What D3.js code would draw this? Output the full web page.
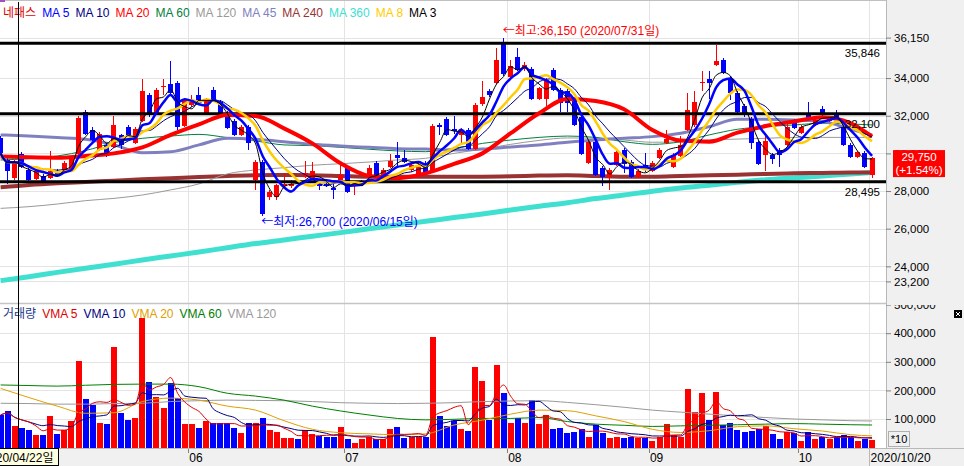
<!DOCTYPE html>
<html><head><meta charset="utf-8">
<script src="https://cdn.jsdelivr.net/npm/d3@7/dist/d3.min.js"></script>
<style>
body{margin:0;background:#fff;}
svg{display:block;font-family:"Liberation Sans","Noto Sans CJK KR",sans-serif;}
</style></head><body>
<svg id="c" width="964" height="466"></svg>
<script>
// ---------- DATA ----------
const tradingDays = {
  "2020/04":[20,21,22,23,24,27,28,29],
  "2020/05":[4,6,7,8,11,12,13,14,15,18,19,20,21,22,25,26,27,28,29],
  "2020/06":[1,2,3,4,5,8,9,10,11,12,15,16,17,18,19,22,23,24,25,26,29,30],
  "2020/07":[1,2,3,6,7,8,9,10,13,14,15,16,17,20,21,22,23,24,27,28,29,30,31],
  "2020/08":[3,4,5,6,7,10,11,12,13,14,18,19,20,21,24,25,26,27,28,31],
  "2020/09":[1,2,3,4,7,8,9,10,11,14,15,16,17,18,21,22,23,24,25,28,29],
  "2020/10":[5,6,7,8,12,13,14,15,16,19,20]
};
const dates = Object.entries(tradingDays).flatMap(([m, ds]) => ds.map(d => m + "/" + String(d).padStart(2, "0")));
const monthLabels = ["06","07","08","09","10"];

const opens = [30800,29650,28700,29950,29100,28650,28800,28700,29050,29050,29150,29950,32200,31250,30200,30450,30350,30950,31400,30550,
31700,33100,32150,33500,33700,33750,31450,32550,33100,32150,33350,32750,32150,31700,30950,31400,28600,29550,27700,27700,
28250,28250,28500,28750,28700,28350,28350,28150,28600,29200,28250,28300,28750,29500,28750,29300,29900,29750,29100,28850,
29500,29100,31500,31800,31300,30950,31250,30250,32600,33300,33750,35850,34050,35100,34500,34500,32900,32900,34450,33350,
33300,32800,31950,29500,30600,29250,28750,29400,30200,29550,28750,29400,29050,29750,30550,29300,29850,31250,31500,33750,
33950,34700,34950,34000,33200,32500,31850,30600,29900,29900,30200,30450,31750,31100,32050,31500,32350,31700,32100,31400,
30450,29800,30000,28850];
const highs = [30900,29750,29650,30050,29200,29150,28900,30100,29150,29600,29800,32000,32300,31400,31150,30550,32000,31050,31500,31400,
33950,33200,33450,33950,34900,33850,32950,33100,33550,32950,33550,32850,32250,31800,31500,31500,29650,29650,28050,28400,
28950,28600,28600,29600,29550,28450,28450,28350,29450,29300,28500,28600,29400,29600,29200,29950,30600,30200,29500,29500,
29600,31550,31600,31950,32000,31350,31350,32650,33850,33400,35600,36150,34950,35600,34850,34600,33550,34000,34550,33450,
33400,32900,32050,30700,30700,29350,29200,30150,30300,29650,29150,30000,29600,30300,31250,30000,30900,33200,33300,34400,
34350,35750,35050,34100,33300,32600,31950,30700,30900,30000,30300,31600,31850,31500,32750,31850,32500,32000,32300,31500,
30550,30150,30100,29800];
const lows = [29900,28400,28600,29200,28550,28600,28500,28650,28750,29000,29100,29850,31000,30650,30100,29800,30300,30250,30850,30500,
31650,31950,32100,33100,33100,31250,31400,32450,32650,32100,32800,32100,31300,30900,30900,30200,28050,26700,27500,27500,
28150,28150,28300,28700,28650,28050,28200,27600,28550,27900,27800,28250,28700,28700,28700,29250,29300,29500,29000,28800,
28900,29050,30950,30900,31050,30550,30200,30200,32500,33000,33700,34100,34000,34400,34400,32850,32850,32500,33300,32200,
32200,31450,29900,29450,28800,28250,28050,29350,28950,28700,28700,29000,29000,29700,30500,29250,29800,31200,31400,33300,
32900,34650,34200,32850,32150,31950,30250,29400,29050,29450,29300,30350,31300,31050,31750,31450,32000,31650,31850,30400,
29750,29750,29250,28700];
const closes = [30000,29050,29550,29300,28600,29050,28550,29050,28800,29500,29700,31900,31050,30700,31050,29850,31500,30450,30900,31300,
33300,32050,33350,33600,33200,31400,32850,32850,32750,32850,32850,32150,31350,30950,31400,30550,29550,26800,27950,28300,
28400,28400,28400,28950,29050,28250,28250,28050,28850,27950,28400,28500,29200,28750,29100,29600,29750,29550,29400,29400,
28950,31450,31400,30950,31200,31250,30250,32550,33000,33100,34950,34200,34650,34450,34700,32900,33450,33900,33350,32650,
32700,31500,29950,30600,28850,28750,29100,30050,29450,28750,29050,29100,29500,30200,30750,29900,30450,32300,32750,33800,
33750,34900,34250,33200,32200,32050,30550,29450,30650,29700,29900,31400,31350,31400,31800,31750,32050,31900,31900,30450,
29800,30050,29300,29750];
const volumes = [114000,128000,75000,70000,61000,44000,44000,110000,47000,61000,93000,303000,170000,149000,86000,82000,353000,122000,96000,105000,
452000,230000,177000,139000,227000,172000,82000,82000,70000,94000,85000,85000,85000,70000,52000,87000,87000,104000,61000,55000,
32000,32000,29000,61000,47000,40000,38000,36000,73000,29000,17000,29000,36000,31000,29000,65000,73000,33000,36000,38000,
36000,388000,110000,75000,94000,65000,58000,283000,234000,96000,289000,192000,87000,102000,87000,166000,82000,114000,65000,70000,
52000,56000,65000,38000,79000,50000,35000,38000,35000,38000,35000,35000,24000,36000,82000,43000,38000,204000,125000,190000,
96000,193000,78000,85000,61000,56000,58000,65000,77000,47000,29000,53000,50000,23000,53000,29000,36000,29000,36000,44000,
38000,24000,29000,27000];

// long moving averages, one value every 4th session (last = final session)
const maSampleIdx = [0,4,8,12,16,20,24,28,32,36,40,44,48,52,56,60,64,68,72,76,80,84,88,92,96,100,104,108,112,116,120,123];
const ma20  = [29830,29790,29770,29860,30000,30320,30980,31540,32040,31990,31330,30530,29470,28800,28680,28940,29440,30000,31070,32130,32890,32780,32340,31240,30680,30620,31100,31450,31690,31920,31600,30890];
const ma45  = [30980,30920,30840,30750,30450,30040,30090,30450,30800,30750,30620,30480,30390,30320,30250,30230,30180,30230,30340,30450,30590,30710,30800,30890,31070,31420,31810,31810,31770,31690,31280,30980];
const ma60  = [29650,29720,29860,30150,30570,30800,30920,31010,30840,30660,30450,30410,30320,30220,30130,30090,30270,30530,30710,30850,30920,30850,30620,30480,30620,30980,31280,31420,31510,31600,31560,31510];
const ma120 = [27080,27170,27310,27490,27610,27790,28060,28380,28910,29120,29240,29370,29450,29540,29650,29740,30000,30230,30480,30690,30820,30800,30710,30590,30620,30710,30760,30800,30850,30850,30850,30850];
const ma240 = [28200,28320,28410,28480,28550,28620,28680,28750,28800,28840,28850,28840,28800,28760,28760,28760,28760,28760,28780,28820,28840,28800,28760,28760,28800,28840,28870,28910,28940,28960,28980,28980];
const ma360 = [23240,23450,23680,23900,24110,24340,24550,24760,24990,25210,25400,25600,25790,26000,26200,26390,26590,26780,26990,27190,27380,27600,27790,27990,28160,28300,28460,28600,28700,28800,28900,28990];
const vma20  = [207000,175000,145000,120000,122000,161000,173000,166000,145000,131000,94000,64000,52000,48000,45000,48000,79000,96000,117000,131000,129000,111000,91000,64000,53000,59000,73000,76000,66000,58000,45000,41000];
const vma60  = [219000,217000,215000,218000,221000,222000,222000,213000,190000,180000,166000,145000,128000,114000,102000,97000,99000,102000,102000,105000,91000,82000,78000,74000,76000,78000,80000,82000,84000,82000,80000,79000];
const vma120 = [155000,154000,152000,152000,154000,155000,161000,164000,166000,165000,164000,161000,157000,155000,154000,155000,157000,161000,163000,164000,158000,150000,141000,131000,124000,117000,111000,105000,100000,97000,94000,93000];

const priceTicks = [36150,34000,32000,30000,28000,26000,24000,23200];
const volumeTicks = [500000,400000,300000,200000,100000];
const levelLines = [35846,32100,28495];
const stockName = "네패스";
const changePct = "+1.54%";
const cursorDate = "2020/04/22";

// ---------- LAYOUT ----------
const svg = d3.select("#c");
const plotR = 886;
const bw = 7.085;
const x = d3.scaleBand().domain(dates).range([0.6 - bw/2, 0.6 - bw/2 + bw*dates.length]).padding(0);
const cx = d => x(d) + x.bandwidth()/2;
const y = d3.scaleLinear().domain([23200,36150]).range([281.4,37.6]);
const yv = d3.scaleLinear().domain([0,500000]).range([447.6,304.6]);
const crisp = v => Math.round(v) + 0.5;

const C = {red:"#ff0000", blue:"#0000ff", ma5:"#0000ff", ma10:"#000080", ma20:"#ff0000", ma60:"#008040",
  ma120:"#999999", ma45:"#8080c0", ma240:"#993333", ma360:"#40e0d0", ma8:"#ffcc00", ma3:"#000000",
  v5:"#e00000", v10:"#000080", v20:"#e0a000", v60:"#008000", v120:"#999999", grid:"#e4e4e4"};

svg.append("rect").attr("width",964).attr("height",466).attr("fill","#fff");
svg.append("rect").attr("x",plotR).attr("y",0).attr("width",964-plotR).attr("height",448).attr("fill","#f0f0f0");
svg.append("rect").attr("x",0).attr("y",448).attr("width",964).attr("height",18).attr("fill","#f0f0f0");

const defs = svg.append("defs");
defs.append("clipPath").attr("id","cm").append("rect").attr("x",0).attr("y",0).attr("width",plotR).attr("height",303);
defs.append("clipPath").attr("id","cv").append("rect").attr("x",0).attr("y",305).attr("width",plotR).attr("height",143);
defs.append("clipPath").attr("id","cva").append("rect").attr("x",plotR).attr("y",305).attr("width",80).attr("height",143);

// grid
const grid = svg.append("g").attr("shape-rendering","crispEdges");
grid.selectAll(".hp").data(priceTicks).join("line")
  .attr("x1",0).attr("x2",plotR).attr("y1",d=>crisp(y(d))).attr("y2",d=>crisp(y(d))).attr("stroke",C.grid);
grid.selectAll(".hv").data(volumeTicks.slice(1)).join("line").attr("class","hv")
  .attr("x1",0).attr("x2",plotR).attr("y1",d=>crisp(yv(d))).attr("y2",d=>crisp(yv(d))).attr("stroke",C.grid);
const monthStarts = monthLabels.map(m => dates.find(d => d.slice(5,7) === m));
const lastDate = dates[dates.length-1];
grid.selectAll(".vm").data(monthStarts.concat([lastDate])).join("line").attr("class","vm")
  .attr("x1",d=>crisp(x(d))).attr("x2",d=>crisp(x(d))).attr("y1",0).attr("y2",448).attr("stroke",C.grid);

// panel borders
svg.append("line").attr("x1",0).attr("x2",plotR).attr("y1",0.5).attr("y2",0.5).attr("stroke","#c0c0c0");
svg.append("rect").attr("x",0).attr("y",0).attr("width",5).attr("height",2).attr("fill","#a050c0");
svg.append("line").attr("x1",0).attr("x2",plotR).attr("y1",303.5).attr("y2",303.5).attr("stroke","#c4c4c4").attr("stroke-width",1.5);
svg.append("line").attr("x1",0).attr("x2",964).attr("y1",448.5).attr("y2",448.5).attr("stroke","#b8b8b8");
svg.append("line").attr("x1",plotR+0.5).attr("x2",plotR+0.5).attr("y1",0).attr("y2",448).attr("stroke","#b8b8b8");

// ---------- PRICE PANEL ----------
const main = svg.append("g").attr("clip-path","url(#cm)");
const sampled = arr => maSampleIdx.map((i,k) => [dates[i], arr[k]]);
const sma = (vals, n) => vals.map((v,i) => d3.mean(vals.slice(Math.max(0,i-n+1), i+1)));
const line = d3.line().x(d=>cx(d[0])).y(d=>y(d[1])).curve(d3.curveMonotoneX);
const drawMA = (g, pts, color, w) => g.append("path").datum(pts).attr("d",line)
  .attr("fill","none").attr("stroke",color).attr("stroke-width",w).attr("stroke-linejoin","round");

drawMA(main, sampled(ma360), C.ma360, 5);
drawMA(main, sampled(ma240), C.ma240, 4);
drawMA(main, sampled(ma120), C.ma120, 1);
drawMA(main, sampled(ma60), C.ma60, 1);
drawMA(main, sampled(ma45), C.ma45, 3);

const candles = dates.map((d,i) => ({d, o:opens[i], h:highs[i], l:lows[i], c:closes[i], v:volumes[i]}));
const col = k => k.c >= k.o ? C.red : C.blue;
const cg = main.append("g").attr("shape-rendering","crispEdges");
cg.selectAll("line").data(candles).join("line")
  .attr("x1",k=>crisp(cx(k.d)-0.5)).attr("x2",k=>crisp(cx(k.d)-0.5))
  .attr("y1",k=>y(k.h)).attr("y2",k=>y(k.l)).attr("stroke",col);
cg.selectAll("rect").data(candles).join("rect")
  .attr("x",k=>Math.round(cx(k.d)-2.5)).attr("width",5)
  .attr("y",k=>y(Math.max(k.o,k.c))).attr("height",k=>Math.max(1.5, Math.abs(y(k.o)-y(k.c))))
  .attr("fill",col);

// support / resistance lines
main.selectAll(".lv").data(levelLines).join("line").attr("class","lv")
  .attr("x1",0).attr("x2",plotR).attr("y1",d=>y(d)).attr("y2",d=>y(d)).attr("stroke","#000").attr("stroke-width",3);
svg.selectAll(".lvt").data(levelLines).join("text").attr("class","lvt")
  .attr("x",880).attr("y",d=>y(d)+14).attr("text-anchor","end").attr("font-size",11.5).attr("fill","#000")
  .text(d=>d3.format(",")(d));

const ptsOf = arr => dates.map((d,i)=>[d,arr[i]]);
drawMA(main, sampled(ma20), C.ma20, 4);
drawMA(main, ptsOf(sma(closes,10)), C.ma10, 1);
drawMA(main, ptsOf(sma(closes,8)), C.ma8, 2.5);
drawMA(main, ptsOf(sma(closes,5)), C.ma5, 2.5);
drawMA(main, ptsOf(sma(closes,3)), C.ma3, 1);

// max / min annotations
const iMax = d3.maxIndex(highs), iMin = d3.minIndex(lows);
function annot(xp, yp, color, label, value, date){
  const t = svg.append("text").attr("x",xp).attr("y",yp).attr("font-size",12).attr("fill",color);
  t.append("tspan").attr("font-family","Noto Sans CJK KR").text("←");
  t.append("tspan").text(label + ":" + d3.format(",")(value) + " (" + date + "일)");
}
annot(cx(dates[iMax]) - 1, y(highs[iMax]) - 3, "#ff0000", "최고", highs[iMax], dates[iMax]);
annot(cx(dates[iMin]) - 1.5, y(lows[iMin]) + 10, "#0000ff", "최저", lows[iMin], dates[iMin]);

// legend
function legend(items, yPos){
  let xp = 3;
  items.forEach(([t,c]) => {
    const el = svg.append("text").attr("x",xp).attr("y",yPos).attr("font-size",12).attr("fill",c).text(t);
    xp += el.node().getComputedTextLength() + 6;
  });
}
legend([[stockName,"#e00000"],["MA 5",C.ma5],["MA 10",C.ma10],["MA 20",C.ma20],["MA 60",C.ma60],["MA 120",C.ma120],
  ["MA 45",C.ma45],["MA 240",C.ma240],["MA 360",C.ma360],["MA 8",C.ma8],["MA 3",C.ma3]], 17);

// ---------- VOLUME PANEL ----------
const vol = svg.append("g").attr("clip-path","url(#cv)");
vol.append("g").attr("shape-rendering","crispEdges").selectAll("rect").data(candles).join("rect")
  .attr("x",k=>Math.round(cx(k.d)-3)).attr("width",6)
  .attr("y",k=>yv(k.v)).attr("height",k=>yv(0)-yv(k.v)).attr("fill",col);
const vline = d3.line().x(d=>cx(d[0])).y(d=>yv(d[1])).curve(d3.curveMonotoneX);
const drawV = (pts,color) => vol.append("path").datum(pts).attr("d",vline).attr("fill","none").attr("stroke",color).attr("stroke-width",1);
drawV(sampled(vma120), C.v120);
drawV(sampled(vma60), C.v60);
drawV(sampled(vma20), C.v20);
drawV(ptsOf(sma(volumes,10)), C.v10);
drawV(ptsOf(sma(volumes,5)), C.v5);
legend([["거래량","#1a3a8a"],["VMA 5",C.v5],["VMA 10",C.v10],["VMA 20",C.v20],["VMA 60",C.v60],["VMA 120",C.v120]], 318);

// ---------- AXES ----------
const ya = svg.append("g").attr("transform",`translate(${plotR},0)`)
  .call(d3.axisRight(y).tickValues(priceTicks).tickSize(5).tickPadding(3).tickFormat(d3.format(",")));
ya.select(".domain").remove();
ya.attr("font-family",null).attr("font-size",11.5);
ya.selectAll("line").attr("stroke","#808080");
ya.selectAll("text").attr("fill","#000");

const yva = svg.append("g").attr("clip-path","url(#cva)").append("g").attr("transform",`translate(${plotR},0)`)
  .call(d3.axisRight(yv).tickValues(volumeTicks).tickSize(5).tickPadding(3).tickFormat(d3.format(",")));
yva.select(".domain").remove();
yva.attr("font-family",null).attr("font-size",11.5);
yva.selectAll("line").attr("stroke","#808080");
yva.selectAll("text").attr("fill","#000");

// last price box
const lastC = closes[closes.length-1];
const ly = y(lastC);
svg.append("rect").attr("x",893).attr("y",ly-8).attr("width",52).attr("height",27).attr("fill","#ff0000");
svg.append("text").attr("x",919).attr("y",ly+3).attr("text-anchor","middle").attr("font-size",11.5).attr("fill","#fff").text(d3.format(",")(lastC));
svg.append("text").attr("x",919).attr("y",ly+16).attr("text-anchor","middle").attr("font-size",11.5).attr("fill","#fff").text("(" + changePct + ")");

// "*10" box and close icon
svg.append("rect").attr("x",888.5).attr("y",431.5).attr("width",21).attr("height",15).attr("fill","#f0f0f0").attr("stroke","#b0b0b0");
svg.append("text").attr("x",899).attr("y",443).attr("text-anchor","middle").attr("font-size",11).text("*10");
svg.append("rect").attr("x",954).attr("y",310).attr("width",8).attr("height",8).attr("fill","#000");
svg.append("path").attr("d","M956,312L960,316M960,312L956,316").attr("stroke","#fff").attr("stroke-width",1);

// bottom date axis
const xa = svg.append("g");
xa.selectAll("text").data(monthStarts).join("text")
  .attr("x",d=>x(d)+1).attr("y",462).attr("font-size",12).attr("fill","#000").text((d,i)=>monthLabels[i]);
xa.selectAll("line").data(monthStarts).join("line")
  .attr("x1",d=>crisp(x(d))).attr("x2",d=>crisp(x(d))).attr("y1",449).attr("y2",453).attr("stroke","#808080");
svg.append("line").attr("x1",crisp(x(lastDate))).attr("x2",crisp(x(lastDate))).attr("y1",449).attr("y2",466).attr("stroke","#b8b8b8");
svg.append("text").attr("x",x(lastDate)+2).attr("y",462).attr("font-size",12).attr("fill","#000").text(lastDate);

// crosshair
const chX = crisp(x(cursorDate) + x.bandwidth());
svg.append("line").attr("x1",chX).attr("x2",chX).attr("y1",2).attr("y2",448).attr("stroke","#000").attr("stroke-width",1);
svg.append("rect").attr("x",chX-50).attr("y",448.5).attr("width",90).attr("height",17).attr("fill","#ffffe1").attr("stroke","#000");
svg.append("text").attr("x",chX+35).attr("y",462).attr("text-anchor","end").attr("font-size",12).attr("fill","#000").text(cursorDate + "일");
</script>
</body></html>
